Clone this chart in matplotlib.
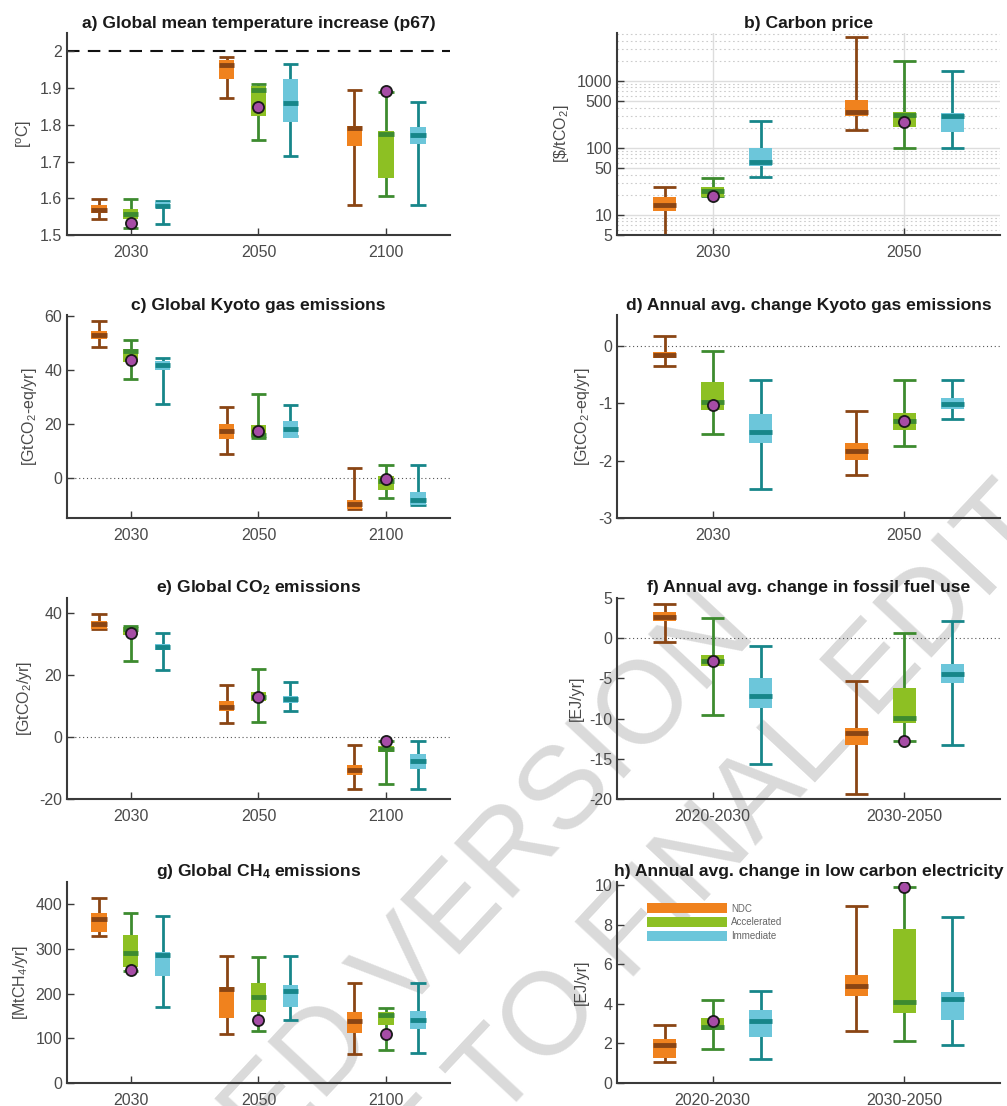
import numpy as np
import matplotlib
matplotlib.use('Agg')
import matplotlib.pyplot as plt
from matplotlib.patches import Rectangle, Patch
from matplotlib.ticker import LogLocator, NullFormatter

plt.rcParams['font.family'] = ['Liberation Sans', 'DejaVu Sans']
plt.rcParams['mathtext.default'] = 'regular'
plt.rcParams['axes.unicode_minus'] = False

# scenario names and colours
scenarios = ['NDC', 'Accelerated', 'Immediate']
box_colors = ['#F0821E', '#8DC023', '#6CC6DA']
dark_colors = ['#8A4514', '#3D8B2F', '#17868A']

# each row: [low whisker, q25, median, q75, high whisker], one row per period
# a) temperature
a_groups = ['2030', '2050', '2100']
a_ndc = [[1.544, 1.559, 1.568, 1.582, 1.598], [1.873, 1.925, 1.962, 1.977, 1.986], [1.582, 1.743, 1.791, 1.797, 1.895]]
a_acc = [[1.52, 1.545, 1.558, 1.572, 1.597], [1.758, 1.823, 1.894, 1.906, 1.911], [1.605, 1.656, 1.775, 1.782, 1.89]]
a_imm = [[1.529, 1.573, 1.58, 1.591, 1.593], [1.716, 1.809, 1.859, 1.925, 1.966], [1.582, 1.748, 1.773, 1.793, 1.861]]
a_mark = [1.534, 1.85, 1.891]

# b) carbon price
b_groups = ['2030', '2050']
b_ndc = [[3, 11.6, 14.1, 18.2, 25.9], [186, 304, 348, 520, 4570]]
b_acc = [[19, 18.8, 23, 26.5, 36], [100, 208, 310, 344, 1970]]
b_imm = [[37, 54, 61, 99, 253], [100, 171, 304, 329, 1410]]
b_mark = [19.4, 241]

# c) Kyoto gas emissions
c_groups = ['2030', '2050', '2100']
c_ndc = [[48.8, 51.7, 53.2, 54.4, 58.4], [8.9, 14.5, 17.2, 20.1, 26.3], [-11.7, -11.7, -9.7, -8.2, 3.6]]
c_acc = [[36.8, 42.9, 47.0, 47.8, 51.2], [14.8, 15.0, 16.0, 19.5, 31.1], [-7.7, -4.7, -1.4, 0.5, 4.8]]
c_imm = [[27.4, 40.2, 42.0, 43.5, 44.4], [15.4, 14.8, 18.2, 21.0, 26.9], [-10.3, -10.3, -8.2, -5.3, 4.6]]
c_mark = [43.9, 17.2, -0.5]

# d) annual change Kyoto gas emissions
d_groups = ['2030', '2050']
d_ndc = [[-0.35, -0.21, -0.17, -0.11, 0.17], [-2.25, -1.99, -1.83, -1.69, -1.13]]
d_acc = [[-1.54, -1.12, -0.98, -0.63, -0.1], [-1.74, -1.46, -1.31, -1.17, -0.6]]
d_imm = [[-2.5, -1.69, -1.51, -1.19, -0.6], [-1.27, -1.11, -1.02, -0.92, -0.6]]
d_mark = [-1.03, -1.32]

# e) CO2 emissions
e_groups = ['2030', '2050', '2100']
e_ndc = [[34.9, 34.9, 36.5, 37.5, 39.9], [4.5, 8.4, 9.9, 11.8, 16.9], [-16.9, -12.1, -10.5, -9.1, -2.4]]
e_acc = [[24.7, 33.0, 35.0, 35.5, 35.9], [5.0, 11.8, 12.9, 14.7, 22.0], [-15.0, -4.8, -3.8, -2.9, -1.1]]
e_imm = [[21.8, 28.2, 29.2, 30.0, 33.8], [8.6, 11.0, 12.3, 13.4, 17.9], [-16.9, -10.4, -7.8, -5.4, -1.1]]
e_mark = [33.6, 13.1, -1.1]

# f) fossil fuel use change
f_groups = ['2020-2030', '2030-2050']
f_ndc = [[-0.5, 2.2, 2.6, 3.2, 4.2], [-19.4, -13.3, -11.8, -11.2, -5.3]]
f_acc = [[-9.5, -3.4, -2.8, -2.1, 2.5], [-12.8, -10.6, -9.9, -6.2, 0.6]]
f_imm = [[-15.6, -8.7, -7.2, -5.0, -1.0], [-13.3, -5.6, -4.4, -3.2, 2.1]]
f_mark = [-2.8, -12.8]

# g) CH4 emissions
g_groups = ['2030', '2050', '2100']
g_ndc = [[329, 338, 367, 381, 414], [109, 145, 210, 216, 285], [65, 112, 139, 160, 225]]
g_acc = [[250, 260, 291, 331, 381], [117, 158, 193, 225, 282], [74, 129, 152, 160, 169]]
g_imm = [[171, 240, 286, 294, 373], [141, 171, 207, 219, 284], [67, 120, 141, 162, 225]]
g_mark = [253, 141, 110]

# h) low carbon electricity change
h_groups = ['2020-2030', '2030-2050']
h_ndc = [[1.05, 1.27, 1.9, 2.24, 2.92], [2.61, 4.41, 4.92, 5.46, 8.95]]
h_acc = [[1.73, 2.68, 2.85, 3.27, 4.2], [2.14, 3.53, 4.07, 7.76, 9.92]]
h_imm = [[1.19, 2.34, 3.14, 3.68, 4.63], [1.93, 3.19, 4.24, 4.61, 8.39]]
h_mark = [3.12, 9.92]

TXT = '#4a4a4a'
SPINE = '#3a3a3a'
OFFS = [-0.25, 0.0, 0.25]
BW = 0.12


def draw_boxes(ax, groups, series, marks):
    x = np.arange(1, len(groups) + 1)
    for k, data in enumerate(series):
        for i, (lo, q1, med, q3, hi) in enumerate(data):
            xc = x[i] + OFFS[k]
            dc = dark_colors[k]
            ax.plot([xc, xc], [lo, hi], color=dc, lw=2, zorder=2, solid_capstyle='butt')
            ax.plot([xc - BW / 2, xc + BW / 2], [lo, lo], color=dc, lw=2, zorder=2, solid_capstyle='butt')
            ax.plot([xc - BW / 2, xc + BW / 2], [hi, hi], color=dc, lw=2, zorder=2, solid_capstyle='butt')
            ax.add_patch(Rectangle((xc - BW / 2, q1), BW, q3 - q1, facecolor=box_colors[k],
                                   edgecolor='none', zorder=3))
            ax.plot([xc - BW / 2, xc + BW / 2], [med, med], color=dc, lw=3.5, zorder=4,
                    solid_capstyle='butt')
    ax.plot(x + OFFS[1], marks, 'o', ms=8, mfc='#A64CA6', mec='#1a1a1a', mew=1.3, zorder=5,
            linestyle='none')
    ax.set_xticks(x)
    ax.set_xticklabels(groups)
    ax.set_xlim(0.5, len(groups) + 0.5)


def style(ax, title, ylabel):
    ax.set_facecolor('none')
    for s in ['top', 'right']:
        ax.spines[s].set_visible(False)
    for s in ['left', 'bottom']:
        ax.spines[s].set_color(SPINE)
        ax.spines[s].set_linewidth(1.5)
    ax.tick_params(direction='in', colors=SPINE, labelcolor=TXT, labelsize=11.5, length=5, width=1)
    ax.tick_params(axis='x', pad=7)
    ax.set_title(title, fontsize=12.6, fontweight='bold', color='#1a1a1a', pad=4)
    ax.set_ylabel(ylabel, fontsize=11.5, color=TXT, labelpad=4)


fig = plt.figure(figsize=(10.07, 11.06), dpi=100)

# watermark behind the panels
wm = dict(fontsize=84, color='#dadada', rotation=47, rotation_mode='anchor',
          ha='center', va='baseline', zorder=-5)
fig.text(0.349, 0.032, 'ACCEPTED VERSION', **wm)
fig.text(0.607, 0.094, 'SUBJECT TO FINAL EDITS', **wm)

lx, rx, w = 0.0665, 0.6127, 0.3803
rows = [(0.7875, 0.1826), (0.5316, 0.1835), (0.2776, 0.1817), (0.0208, 0.1817)]

ax = fig.add_axes([lx, rows[0][0], w, rows[0][1]])
ax.axhline(2.0, color='#111111', lw=1.5, ls=(0, (6, 4)), zorder=1)
draw_boxes(ax, a_groups, [a_ndc, a_acc, a_imm], a_mark)
ax.set_ylim(1.5, 2.05)
ax.set_yticks([1.5, 1.6, 1.7, 1.8, 1.9, 2.0])
ax.set_yticklabels(['1.5', '1.6', '1.7', '1.8', '1.9', '2'])
style(ax, 'a) Global mean temperature increase (p67)', '[$^o$C]')

ax = fig.add_axes([rx, rows[0][0], w, rows[0][1]])
ax.set_yscale('log')
draw_boxes(ax, b_groups, [b_ndc, b_acc, b_imm], b_mark)
ax.set_ylim(5, 5200)
ax.set_yticks([5, 10, 50, 100, 500, 1000])
ax.set_yticklabels(['5', '10', '50', '100', '500', '1000'])
ax.yaxis.set_minor_locator(LogLocator(base=10, subs=np.arange(2, 10)))
ax.yaxis.set_minor_formatter(NullFormatter())
ax.grid(True, which='major', color='#dddddd', lw=1, zorder=0)
ax.grid(True, which='minor', axis='y', color='#cccccc', lw=0.8, ls=(0, (1.5, 2.5)), zorder=0)
ax.set_axisbelow(True)
ax.tick_params(which='minor', length=0)
style(ax, 'b) Carbon price', r'[\$/tCO$_2$]')

ax = fig.add_axes([lx, rows[1][0], w, rows[1][1]])
ax.axhline(0, color='#555555', lw=0.8, ls=(0, (1, 2.5)), zorder=1)
draw_boxes(ax, c_groups, [c_ndc, c_acc, c_imm], c_mark)
ax.set_ylim(-15, 60.5)
ax.set_yticks([0, 20, 40, 60])
style(ax, 'c) Global Kyoto gas emissions', '[GtCO$_2$-eq/yr]')

ax = fig.add_axes([rx, rows[1][0], w, rows[1][1]])
ax.axhline(0, color='#555555', lw=0.8, ls=(0, (1, 2.5)), zorder=1)
draw_boxes(ax, d_groups, [d_ndc, d_acc, d_imm], d_mark)
ax.set_ylim(-3, 0.53)
ax.set_yticks([-3, -2, -1, 0])
style(ax, 'd) Annual avg. change Kyoto gas emissions', '[GtCO$_2$-eq/yr]')

ax = fig.add_axes([lx, rows[2][0], w, rows[2][1]])
ax.axhline(0, color='#555555', lw=0.8, ls=(0, (1, 2.5)), zorder=1)
draw_boxes(ax, e_groups, [e_ndc, e_acc, e_imm], e_mark)
ax.set_ylim(-20, 45)
ax.set_yticks([-20, 0, 20, 40])
style(ax, 'e) Global CO$_2$ emissions', '[GtCO$_2$/yr]')

ax = fig.add_axes([rx, rows[2][0], w, rows[2][1]])
ax.axhline(0, color='#555555', lw=0.8, ls=(0, (1, 2.5)), zorder=1)
draw_boxes(ax, f_groups, [f_ndc, f_acc, f_imm], f_mark)
ax.set_ylim(-20, 5)
ax.set_yticks([-20, -15, -10, -5, 0, 5])
style(ax, 'f) Annual avg. change in fossil fuel use', '[EJ/yr]')

ax = fig.add_axes([lx, rows[3][0], w, rows[3][1]])
draw_boxes(ax, g_groups, [g_ndc, g_acc, g_imm], g_mark)
ax.set_ylim(0, 450)
ax.set_yticks([0, 100, 200, 300, 400])
style(ax, 'g) Global CH$_4$ emissions', '[MtCH$_4$/yr]')

ax = fig.add_axes([rx, rows[3][0], w, rows[3][1]])
draw_boxes(ax, h_groups, [h_ndc, h_acc, h_imm], h_mark)
ax.set_ylim(0, 10.15)
ax.set_yticks([0, 2, 4, 6, 8, 10])
style(ax, 'h) Annual avg. change in low carbon electricity', '[EJ/yr]')
handles = [Patch(facecolor=c, edgecolor='none') for c in box_colors]
leg = ax.legend(handles, scenarios, loc='upper left', bbox_to_anchor=(0.078, 0.895),
                frameon=False, fontsize=7, handlelength=8.2, handleheight=1.25,
                labelspacing=0.35, handletextpad=0.5, borderpad=0, borderaxespad=0)
for t in leg.get_texts():
    t.set_color('#666666')

fig.savefig('out.png', dpi=100)
